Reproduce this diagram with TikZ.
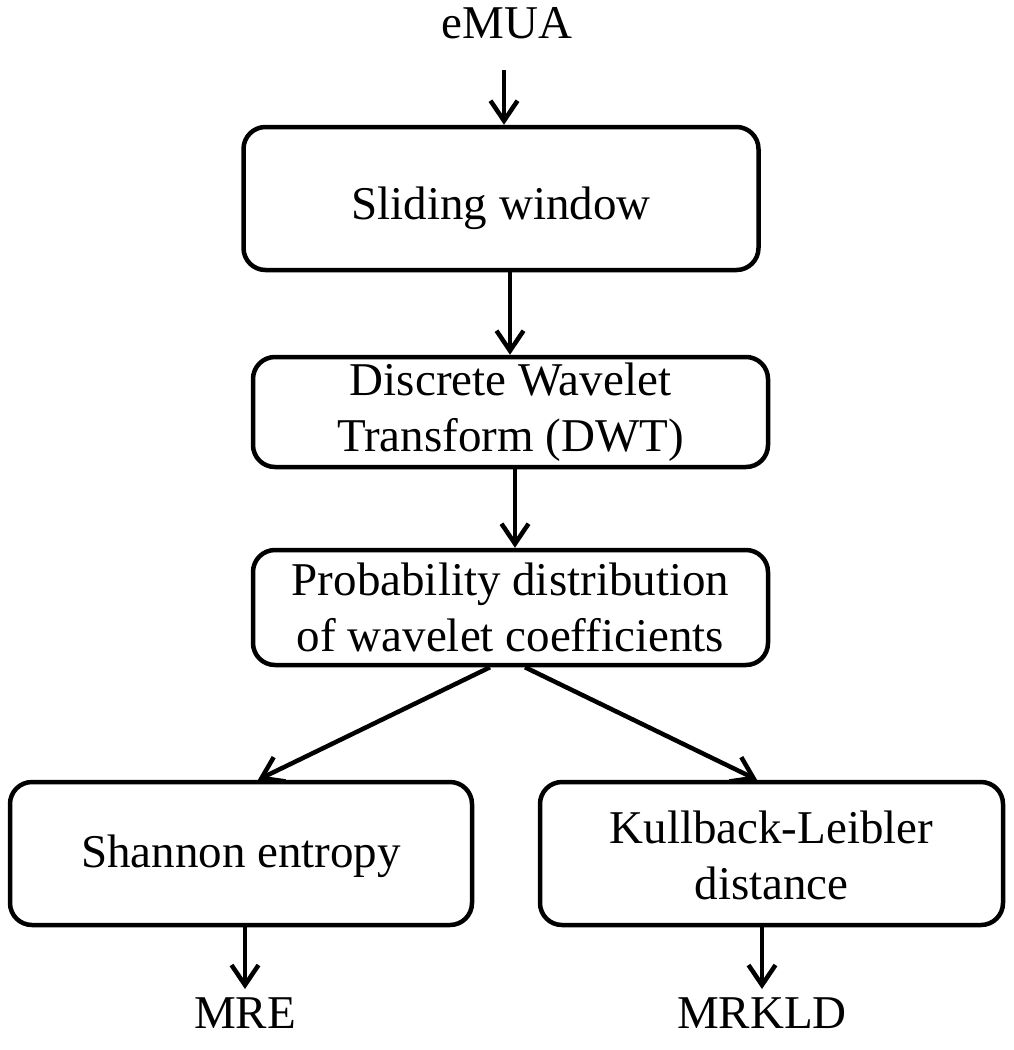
\documentclass[tikz,border=0pt]{standalone}
\usepackage{fontspec}
\setmainfont{Liberation Serif}
\usetikzlibrary{arrows.meta}
\tikzset{
  procbox/.style={draw, line width=4.5pt, rounded corners=22pt, align=center, inner sep=0pt,
    font=\fontsize{47}{56}\selectfont},
  lbl/.style={inner sep=0pt, font=\fontsize{47}{56}\selectfont},
  flow/.style={line width=4.5pt, -{Straight Barb[length=20pt,width=27pt,line width=4.5pt]}}
}
\begin{document}
\begin{tikzpicture}[x=1pt,y=-1pt]
\useasboundingbox (0,0) rectangle (1014,1050);
\node[lbl, anchor=base] (in) at (507,38) {eMUA};
\node[procbox, minimum width=515pt, minimum height=143pt] (sw) at (501,198.5) {\raisebox{-10pt}[\height][\depth]{Sliding window}};
\node[procbox, minimum width=515pt, minimum height=110pt] (dwt) at (510.5,412) {Discrete Wavelet\\Transform (DWT)};
\node[procbox, minimum width=515pt, minimum height=115pt] (pd) at (510.5,607.5) {Probability distribution\\of wavelet coefficients};
\node[procbox, minimum width=462pt, minimum height=143pt] (se) at (241,853.5) {\raisebox{-3pt}[\height][\depth]{Shannon entropy}};
\node[procbox, minimum width=463pt, minimum height=143pt] (kl) at (771.5,853.5) {\raisebox{-7pt}[\height][\depth]{\begin{tabular}{@{}c@{}}Kullback-Leibler\\distance\end{tabular}}};
\node[lbl, anchor=base] (mre) at (245,1028) {MRE};
\node[lbl, anchor=base] (mrkld) at (762,1028) {MRKLD};
\coordinate (a0) at (504,70);
\draw[flow] (a0) -- (sw.north -| a0);
\draw[flow] (sw.south -| 510,0) -- (dwt.north -| 510,0);
\draw[flow] (dwt.south -| 515,0) -- (pd.north -| 515,0);
\draw[flow] (pd.south -| 490,0) -- (se.north -| 258,0);
\draw[flow] (pd.south -| 525,0) -- (kl.north -| 757,0);
\draw[flow] (se.south -| 245,0) -- ([yshift=8pt]mre.north);
\draw[flow] (kl.south -| 762,0) -- ([yshift=8pt]mrkld.north);
\end{tikzpicture}
\end{document}
